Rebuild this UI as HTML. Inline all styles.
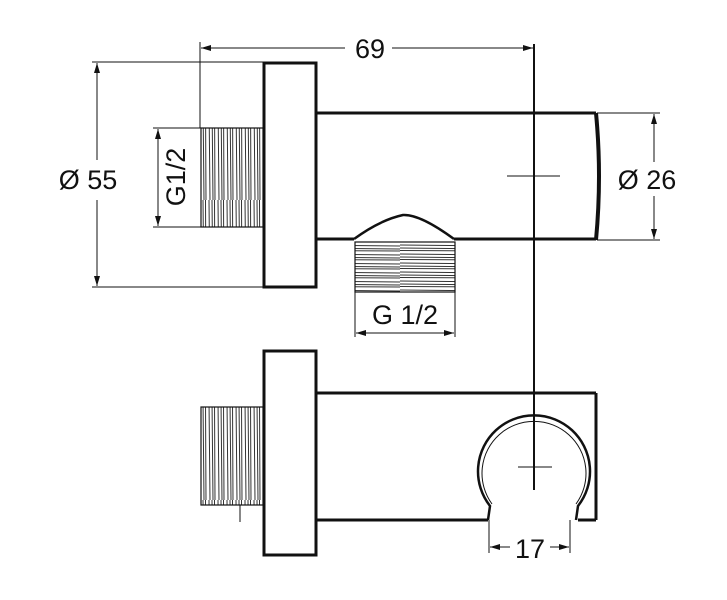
<!DOCTYPE html>
<html><head><style>body{margin:0;background:#fff}svg{display:block}text{font-family:"Liberation Sans",sans-serif;fill:#111}</style></head>
<body>
<svg width="727" height="600" viewBox="0 0 727 600" xmlns="http://www.w3.org/2000/svg">
<defs>
<pattern id="thv" width="9" height="100" patternUnits="userSpaceOnUse"><path d="M2 0 L3 100 M5 0 L6 100 M7.5 0 L8 100" stroke="#333" stroke-width="1" fill="none"/></pattern>
<pattern id="thh" width="100" height="9" patternUnits="userSpaceOnUse"><path d="M0 2 L100 3 M0 5 L100 6 M0 7.5 L100 8" stroke="#333" stroke-width="1" fill="none"/></pattern>
<marker id="a" markerWidth="10" markerHeight="6" refX="10" refY="3" orient="auto-start-reverse" markerUnits="userSpaceOnUse"><path d="M0 0 L10 3 L0 6 z" fill="#111"/></marker>
</defs>
<g stroke="#111" fill="none">
<line x1="534" y1="44" x2="534" y2="490" stroke-width="2"/>
<line x1="200" y1="42" x2="200" y2="128" stroke-width="1"/>
<line x1="201" y1="48" x2="345" y2="48" stroke-width="1" marker-start="url(#a)"/>
<line x1="392" y1="48" x2="533" y2="48" stroke-width="1" marker-end="url(#a)"/>
<line x1="92" y1="62" x2="263" y2="62" stroke-width="1"/>
<line x1="92" y1="287" x2="263" y2="287" stroke-width="1"/>
<line x1="97" y1="63" x2="97" y2="160" stroke-width="1" marker-start="url(#a)"/>
<line x1="97" y1="200" x2="97" y2="286" stroke-width="1" marker-end="url(#a)"/>
<line x1="153" y1="128" x2="205" y2="128" stroke-width="1"/>
<line x1="153" y1="227" x2="205" y2="227" stroke-width="1"/>
<line x1="158" y1="129" x2="158" y2="226" stroke-width="1" marker-start="url(#a)" marker-end="url(#a)"/>
<rect x="264" y="63" width="52" height="224" stroke-width="3"/>
<path d="M316 113 H596 M316 239 H354 M454 239 H596" stroke-width="3"/>
<path d="M596 113 Q602 176 596 240" stroke-width="4"/>
<rect x="201" y="128" width="62" height="99" fill="url(#thv)" stroke-width="1.2"/>
<path d="M354 239 Q380 220 403 215 Q420 214 454 239" stroke-width="2.5"/>
<rect x="355" y="242" width="100" height="50" fill="url(#thh)" stroke-width="1.2"/>
<line x1="355" y1="290" x2="355" y2="337" stroke-width="1"/>
<line x1="455" y1="290" x2="455" y2="337" stroke-width="1"/>
<line x1="356" y1="333" x2="454" y2="333" stroke-width="1" marker-start="url(#a)" marker-end="url(#a)"/>
<line x1="597" y1="113" x2="660" y2="113" stroke-width="1"/>
<line x1="597" y1="240" x2="660" y2="240" stroke-width="1"/>
<line x1="654" y1="114" x2="654" y2="162" stroke-width="1" marker-start="url(#a)"/>
<line x1="654" y1="196" x2="654" y2="239" stroke-width="1" marker-end="url(#a)"/>
<line x1="507" y1="176" x2="560" y2="176" stroke-width="1"/>
<rect x="264" y="351" width="52" height="204" stroke-width="3"/>
<path d="M316 393 H596 M316 520 H488 M578 520 H596" stroke-width="3"/>
<line x1="596" y1="393" x2="596" y2="520" stroke-width="3"/>
<rect x="201" y="407" width="62" height="98" fill="url(#thv)" stroke-width="1.2"/>
<line x1="240" y1="505" x2="240" y2="522" stroke-width="1"/>
<path d="M488 520 L490 506 A56 56 0 1 1 578 506 L576 520" stroke-width="2.5"/>
<path d="M492 504 A52 52 0 1 1 576 504" stroke-width="1"/>
<line x1="518" y1="467" x2="552" y2="467" stroke-width="1"/>
<line x1="489" y1="520" x2="489" y2="553" stroke-width="1"/>
<line x1="570" y1="520" x2="570" y2="553" stroke-width="1"/>
<line x1="490" y1="547" x2="510" y2="547" stroke-width="1" marker-start="url(#a)"/>
<line x1="550" y1="547" x2="569" y2="547" stroke-width="1" marker-end="url(#a)"/>
</g>
<text x="370" y="58" font-size="27" text-anchor="middle">69</text>
<text x="88" y="189" font-size="27" text-anchor="middle">Ø 55</text>
<text x="647" y="189" font-size="27" text-anchor="middle">Ø 26</text>
<text x="405" y="324" font-size="27" text-anchor="middle">G 1/2</text>
<text x="530" y="558" font-size="27" text-anchor="middle">17</text>
<text transform="translate(185,177) rotate(-90)" font-size="27" text-anchor="middle">G1/2</text>
</svg>
</body></html>
